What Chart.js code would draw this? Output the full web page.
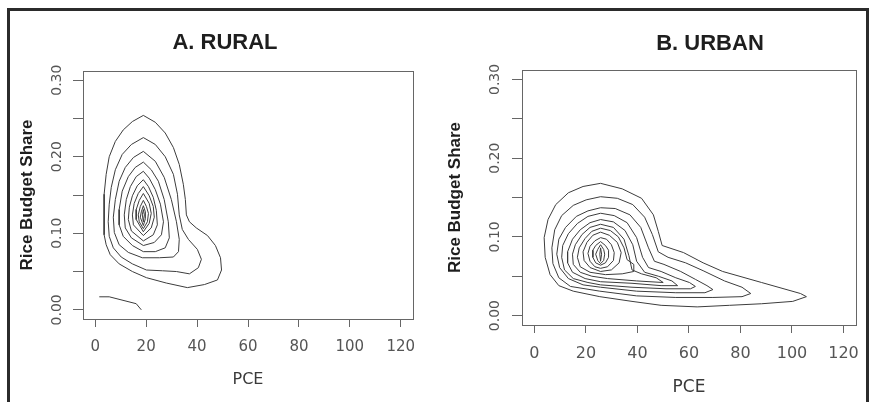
<!DOCTYPE html>
<html><head><meta charset="utf-8">
<script src="https://cdn.jsdelivr.net/npm/chart.js@4.4.0/dist/chart.umd.min.js"></script>
<style>
html,body{margin:0;padding:0;background:#fff;overflow:hidden;width:870px;height:402px;}
#frame{position:absolute;left:7px;top:8px;width:856px;height:420px;border:3px solid #2b2b2b;border-bottom:none;}
.panel{position:absolute;top:0;width:435px;height:402px;}
canvas{display:block;}
</style></head>
<body>
<div id="frame"></div>
<div class="panel" style="left:0"><canvas id="c1" width="435" height="402"></canvas></div>
<div class="panel" style="left:435px"><canvas id="c2" width="435" height="402"></canvas></div>
<script>
// ---- axes ----
const xTicks = [0, 20, 40, 60, 80, 100, 120];
const yTicks = [0, 0.05, 0.10, 0.15, 0.20, 0.25, 0.30];
const yTickLabels = ['0.00', '', '0.10', '', '0.20', '', '0.30'];
const xRange = [-4.8, 124.8];
const yRange = [-0.012, 0.312];

// ---- A. RURAL contour lines: [PCE, rice budget share] ----
const rural1 = [[18.9,.254],[14.6,.246],[11.0,.235],[7.9,.220],[5.5,.200],[4.3,.177],[3.5,.151],[3.5,.124],[3.5,.098],[4.3,.085],[5.9,.072],[9.4,.060],[14.6,.050],[20.1,.042],[27.9,.035],[36.2,.029],[42.9,.033],[48.0,.039],[49.6,.052],[49.2,.068],[47.2,.084],[44.1,.097],[39.7,.107],[37.0,.115],[35.8,.124],[35.4,.144],[34.6,.164],[33.0,.190],[30.7,.212],[27.5,.231],[23.6,.245]];
const rural2 = [[18.9,.225],[14.2,.216],[10.6,.203],[7.9,.183],[6.3,.160],[5.5,.138],[5.1,.115],[5.5,.096],[7.1,.081],[10.2,.069],[14.6,.060],[20.1,.052],[26.4,.051],[31.9,.050],[37.0,.047],[40.5,.055],[41.7,.066],[40.1,.079],[36.6,.092],[34.2,.105],[33.0,.124],[32.3,.151],[30.7,.177],[27.5,.200],[23.6,.216]];
const rural3 = [[18.9,.207],[15.0,.199],[11.8,.186],[9.4,.168],[7.9,.144],[7.1,.121],[7.5,.101],[9.4,.085],[13.0,.075],[18.5,.068],[25.2,.068],[30.7,.069],[32.7,.076],[33.0,.092],[31.9,.115],[29.9,.144],[27.1,.173],[23.6,.194]];
const rural4 = [[18.9,.193],[15.7,.186],[13.0,.174],[10.6,.155],[9.4,.131],[9.4,.111],[11.0,.096],[14.6,.084],[18.9,.076],[23.6,.076],[27.5,.081],[29.1,.094],[28.7,.115],[27.1,.144],[24.8,.168],[22.0,.183]];
const rural5 = [[18.9,.181],[16.1,.174],[13.8,.161],[12.2,.144],[11.4,.124],[11.8,.107],[14.2,.094],[18.9,.084],[23.2,.088],[26.0,.098],[26.8,.115],[25.6,.138],[23.6,.157],[21.2,.172]];
const rural6 = [[18.9,.170],[16.5,.162],[14.6,.149],[13.4,.134],[13.0,.118],[14.2,.103],[18.9,.090],[22.8,.098],[24.4,.111],[24.0,.130],[22.8,.147],[20.9,.161]];
const rural7 = [[18.9,.161],[16.9,.152],[15.3,.139],[14.6,.124],[15.0,.111],[18.9,.097],[22.0,.107],[23.2,.121],[22.8,.135],[21.2,.149]];
const rural8 = [[18.9,.152],[17.3,.143],[16.1,.131],[16.1,.118],[18.9,.102],[21.2,.113],[22.0,.126],[21.2,.139]];
const rural9 = [[18.9,.143],[17.7,.135],[16.9,.124],[17.3,.115],[18.9,.106],[20.5,.115],[20.9,.126],[20.1,.135]];
const rural10 = [[18.9,.136],[18.1,.128],[17.7,.121],[18.9,.110],[19.7,.119],[19.7,.128]];
const rural11 = [[18.9,.131],[18.5,.124],[18.9,.115],[19.3,.124]];
const ruralEdge = [[1.6,.017],[5.5,.017],[16.1,.008],[18.1,0.0]];

// ---- B. URBAN contour lines ----
const urban1 = [[25.7,.168],[18.9,.164],[13.2,.156],[8.3,.141],[5.3,.122],[3.8,.099],[4.2,.074],[6.1,.052],[9.5,.038],[15.1,.031],[25.4,.024],[37.9,.018],[49.2,.013],[63.2,.011],[75.7,.013],[88.2,.015],[100.3,.018],[105.6,.024],[103.3,.028],[88.2,.042],[73.1,.056],[65.5,.067],[57.9,.080],[49.6,.089],[48.1,.107],[46.2,.128],[41.6,.149],[34.1,.161]];
const urban2 = [[25.7,.151],[20.1,.147],[15.1,.140],[10.6,.127],[7.9,.109],[6.8,.086],[7.2,.066],[9.5,.048],[14.0,.037],[25.4,.031],[39.7,.025],[54.9,.023],[69.3,.023],[80.6,.024],[84.0,.028],[80.6,.036],[73.8,.044],[65.5,.057],[58.7,.067],[51.9,.074],[48.1,.081],[45.8,.103],[42.8,.125],[38.2,.141],[32.2,.149]];
const urban3 = [[25.7,.137],[20.8,.133],[16.3,.126],[12.1,.112],[9.5,.097],[8.7,.078],[9.8,.061],[13.2,.047],[18.9,.039],[25.7,.036],[39.7,.031],[54.9,.029],[66.2,.029],[69.3,.033],[67.0,.038],[62.5,.046],[56.8,.056],[50.3,.065],[46.6,.069],[44.3,.086],[41.3,.112],[37.1,.128],[31.4,.136]];
const urban4 = [[25.7,.130],[20.8,.126],[16.7,.117],[13.2,.104],[11.0,.089],[10.6,.074],[11.7,.058],[15.1,.047],[20.8,.042],[25.7,.039],[37.9,.036],[51.1,.034],[60.6,.034],[62.5,.037],[60.2,.042],[54.9,.048],[49.2,.056],[44.3,.061],[42.0,.074],[39.7,.099],[36.0,.118],[31.0,.127]];
const urban5 = [[25.7,.122],[21.6,.118],[17.8,.109],[14.8,.097],[12.9,.081],[12.9,.067],[14.8,.055],[19.7,.047],[25.7,.043],[37.9,.041],[49.2,.038],[55.6,.038],[53.4,.044],[48.1,.050],[42.8,.055],[39.7,.069],[38.2,.090],[35.2,.108],[30.7,.119]];
const urban6 = [[25.7,.116],[21.6,.112],[18.5,.103],[15.9,.090],[14.8,.078],[15.1,.065],[17.8,.055],[22.3,.050],[28.4,.047],[39.7,.044],[50.0,.042],[47.3,.048],[41.6,.053],[37.9,.058],[36.7,.076],[34.8,.097],[30.7,.112]];
const urban7 = [[25.7,.111],[22.3,.107],[19.7,.098],[17.4,.086],[16.7,.074],[17.8,.062],[21.6,.055],[27.6,.052],[34.1,.053],[38.6,.056],[38.6,.065],[36.0,.071],[34.8,.086],[32.6,.100],[29.5,.108]];
const urban8 = [[25.7,.106],[22.7,.102],[20.4,.093],[18.9,.081],[19.3,.070],[21.6,.061],[25.7,.056],[29.9,.058],[32.9,.067],[33.7,.080],[32.2,.093],[29.1,.102]];
const urban9 = [[25.7,.099],[23.5,.095],[21.6,.088],[20.8,.079],[21.6,.069],[23.5,.062],[25.7,.060],[28.4,.062],[30.7,.070],[31.0,.080],[29.9,.090],[28.0,.097]];
const urban10 = [[25.7,.094],[23.8,.089],[22.7,.083],[22.7,.074],[23.8,.067],[25.7,.064],[27.6,.067],[28.8,.074],[28.8,.083],[27.6,.089]];
const urban11 = [[25.7,.090],[24.6,.084],[23.8,.078],[24.6,.070],[25.7,.066],[26.9,.070],[27.3,.078],[26.9,.084]];
const urban12 = [[25.7,.086],[25.4,.078],[25.7,.069],[26.1,.078]];

const ruralClosed = [rural1, rural2, rural3, rural4, rural5, rural6, rural7, rural8, rural9, rural10, rural11];
const ruralOpen = [ruralEdge];
const urbanClosed = [urban1, urban2, urban3, urban4, urban5, urban6, urban7, urban8, urban9, urban10, urban11, urban12];
const urbanOpen = [];

// ---- plugins ----
const boxPlugin = {
  id: 'plotBox',
  afterDraw(chart) {
    const a = chart.chartArea, ctx = chart.ctx;
    ctx.save();
    ctx.strokeStyle = '#666'; ctx.lineWidth = 1;
    ctx.strokeRect(Math.round(a.left) + 0.5, Math.round(a.top) + 0.5,
      Math.round(a.right) - Math.round(a.left), Math.round(a.bottom) - Math.round(a.top));
    ctx.restore();
  }
};
const panelTitle = {
  id: 'panelTitle',
  afterDraw(chart, args, o) {
    const ctx = chart.ctx;
    ctx.save();
    ctx.font = o.font; ctx.fillStyle = o.color;
    ctx.textAlign = 'center'; ctx.textBaseline = 'middle';
    ctx.fillText(o.text, o.x, o.y);
    ctx.restore();
  }
};

function lineSet(pts, closed) {
  const arr = closed ? pts.concat([pts[0]]) : pts;
  return {
    data: arr.map(p => ({x: p[0], y: p[1]})),
    showLine: true, pointRadius: 0, borderColor: '#3c3c3c', borderWidth: 1,
    fill: false, tension: 0
  };
}

function makePanel(id, closed, open, g) {
  const datasets = closed.map(c => lineSet(c, true)).concat(open.map(c => lineSet(c, false)));
  return new Chart(document.getElementById(id), {
    type: 'scatter',
    data: {datasets},
    plugins: [boxPlugin, panelTitle],
    options: {
      responsive: false, animation: false, devicePixelRatio: 1,
      layout: {padding: {left: 0, right: g.padR, top: g.padT, bottom: 0}},
      plugins: {
        legend: {display: false}, tooltip: {enabled: false},
        panelTitle: {text: g.title, x: g.titleX, y: g.titleY, font: 'bold 22px "Liberation Sans", Arial, sans-serif', color: '#1e1e1e'}
      },
      scales: {
        x: {
          type: 'linear', min: xRange[0], max: xRange[1],
          afterBuildTicks: a => { a.ticks = xTicks.map(v => ({value: v})); },
          afterFit: a => { a.height = g.xH; },
          grid: {display: true, drawOnChartArea: false, drawTicks: true, tickLength: 8, color: '#666', lineWidth: 1},
          border: {display: false},
          ticks: {font: {family: 'DejaVu Sans', size: g.tickSize}, color: '#555', padding: g.xPad,
                  maxRotation: 0, autoSkip: false, callback: (v, i) => String(xTicks[i])},
          title: {display: true, text: 'PCE', color: '#3a3a3a',
                  font: {family: 'DejaVu Sans', size: g.pceSize}, padding: {top: 0, bottom: g.pcePad}}
        },
        y: {
          type: 'linear', min: yRange[0], max: yRange[1],
          afterBuildTicks: a => { a.ticks = yTicks.map(v => ({value: v})); },
          afterFit: a => { a.width = g.yW; },
          grid: {display: true, drawOnChartArea: false, drawTicks: true, tickLength: 10, color: '#666', lineWidth: 1},
          border: {display: false},
          ticks: {font: {family: 'DejaVu Sans', size: 14}, color: '#555', padding: g.yPad,
                  minRotation: 90, maxRotation: 90, crossAlign: 'center', autoSkip: false,
                  callback: (v, i) => yTickLabels[i]},
          title: {display: true, text: 'Rice Budget Share', color: '#1e1e1e',
                  font: {family: 'Liberation Sans', size: 17, weight: 'bold'}, padding: {top: g.yTitlePad, bottom: 0}}
        }
      }
    }
  });
}

makePanel('c1', ruralClosed, ruralOpen, {
  title: 'A. RURAL', titleX: 225, titleY: 43,
  padR: 22, padT: 71, xH: 83, yW: 83,
  tickSize: 15, xPad: 11, pceSize: 16, pcePad: 12.4, yPad: 0.4, yTitlePad: 16.8
});
makePanel('c2', urbanClosed, urbanOpen, {
  title: 'B. URBAN', titleX: 275, titleY: 44,
  padR: 6, padT: 70, xH: 77, yW: 87,
  tickSize: 16, xPad: 11, pceSize: 17, pcePad: 4.4, yPad: 1.4, yTitlePad: 9.8
});
</script>
</body></html>
